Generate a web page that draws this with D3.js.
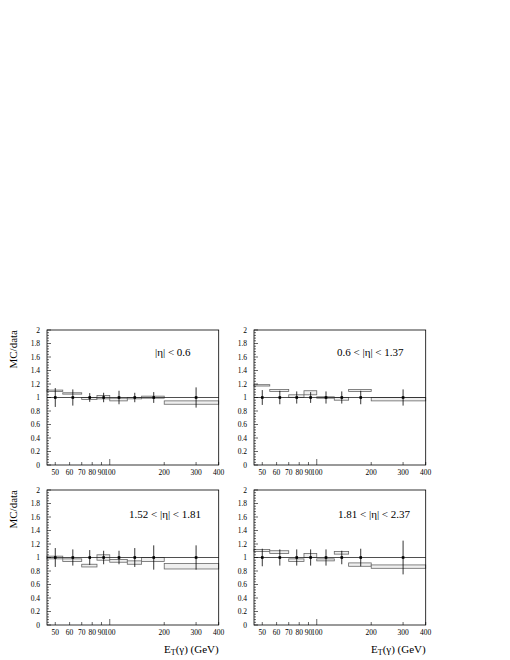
<!DOCTYPE html>
<html><head><meta charset="utf-8">
<script src="https://cdn.jsdelivr.net/npm/d3@7"></script>
<style>body{margin:0;background:#fff}svg{display:block}</style>
</head><body>
<script>
// ---- data ----
const binEdges = [45, 55, 70, 85, 100, 125, 150, 200, 400];
const binCenters = [50, 62.5, 77.5, 92.5, 112.5, 137.5, 175, 300];
const xTickValues = [50, 60, 70, 80, 90, 100, 200, 300, 400];
const yTickValues = [0, 0.2, 0.4, 0.6, 0.8, 1, 1.2, 1.4, 1.6, 1.8, 2];
const panelLabels = ["|\u03b7| < 0.6", "0.6 < |\u03b7| < 1.37", "1.52 < |\u03b7| < 1.81", "1.81 < |\u03b7| < 2.37"];
const dataValues = [1, 1, 1, 1, 1, 1, 1, 1];
// MC band low/high edges per panel
const mcLo1 = [1.09, 1.05, 0.97, 0.98, 0.95, 0.98, 0.99, 0.90];
const mcHi1 = [1.11, 1.07, 1.00, 1.03, 0.99, 1.00, 1.02, 0.95];
const err1  = [0.14, 0.12, 0.065, 0.07, 0.10, 0.07, 0.08, 0.15];
const mcLo2 = [1.17, 1.09, 1.00, 1.04, 0.99, 0.96, 1.09, 0.95];
const mcHi2 = [1.19, 1.12, 1.04, 1.10, 1.01, 1.00, 1.12, 1.00];
const err2  = [0.11, 0.10, 0.09, 0.08, 0.09, 0.09, 0.10, 0.12];
const mcLo3 = [0.98, 0.94, 0.86, 0.96, 0.93, 0.90, 0.94, 0.83];
const mcHi3 = [1.02, 0.98, 0.90, 1.04, 0.97, 0.95, 1.00, 0.91];
const err3  = [0.14, 0.12, 0.11, 0.10, 0.10, 0.14, 0.18, 0.18];
const mcLo4 = [1.09, 1.06, 0.94, 1.00, 0.95, 1.05, 0.87, 0.84];
const mcHi4 = [1.12, 1.10, 0.98, 1.06, 0.98, 1.09, 0.92, 0.89];
const err4  = [0.13, 0.12, 0.12, 0.12, 0.12, 0.10, 0.13, 0.25];

const panels = [
  {lo: mcLo1, hi: mcHi1, err: err1, label: panelLabels[0], x0: 47,  y0: 330, lx: 155, ly: 356, bottom: false},
  {lo: mcLo2, hi: mcHi2, err: err2, label: panelLabels[1], x0: 254, y0: 330, lx: 337, ly: 356, bottom: false},
  {lo: mcLo3, hi: mcHi3, err: err3, label: panelLabels[2], x0: 47,  y0: 490, lx: 129, ly: 518, bottom: true},
  {lo: mcLo4, hi: mcHi4, err: err4, label: panelLabels[3], x0: 254, y0: 490, lx: 338, ly: 518, bottom: true}
];
const W = 171.7, H = 135;
const font = "'Liberation Serif','Times New Roman',serif";

const svg = d3.select("body").append("svg").attr("width", 510).attr("height", 660);

panels.forEach((p, pi) => {
  const g = svg.append("g").attr("transform", `translate(${p.x0},${p.y0})`);
  const x = d3.scaleLog().domain([binEdges[0], binEdges[binEdges.length - 1]]).range([0, W]);
  const y = d3.scaleLinear().domain([0, 2]).range([H, 0]);

  // MC boxes
  g.selectAll("rect.mc").data(p.lo).enter().append("rect")
    .attr("x", (d, i) => x(binEdges[i]))
    .attr("width", (d, i) => x(binEdges[i + 1]) - x(binEdges[i]))
    .attr("y", (d, i) => y(p.hi[i]))
    .attr("height", (d, i) => y(p.lo[i]) - y(p.hi[i]))
    .attr("fill", "#efefef").attr("stroke", "#666").attr("stroke-width", 0.8);

  // line at 1
  g.append("line").attr("x1", 0).attr("x2", W).attr("y1", y(1)).attr("y2", y(1))
    .attr("stroke", "#222").attr("stroke-width", 0.8);

  // data error bars
  g.selectAll("line.err").data(dataValues).enter().append("line")
    .attr("x1", (d, i) => x(binCenters[i])).attr("x2", (d, i) => x(binCenters[i]))
    .attr("y1", (d, i) => y(d + p.err[i])).attr("y2", (d, i) => y(d - p.err[i]))
    .attr("stroke", "#000").attr("stroke-width", 0.8);
  g.selectAll("rect.pt").data(dataValues).enter().append("rect")
    .attr("x", (d, i) => x(binCenters[i]) - 1.3).attr("y", d => y(d) - 1.3)
    .attr("width", 2.6).attr("height", 2.6).attr("fill", "#000");

  // frame
  g.append("rect").attr("x", 0).attr("y", 0).attr("width", W).attr("height", H)
    .attr("fill", "none").attr("stroke", "#000").attr("stroke-width", 0.8);

  // y ticks (inward)
  const yMinor = d3.range(0, 2.0001, 0.04);
  g.selectAll("line.ym").data(yMinor).enter().append("line")
    .attr("x1", 0).attr("x2", (d, i) => (i % 5 === 0 ? 4 : 2))
    .attr("y1", d => y(d)).attr("y2", d => y(d))
    .attr("stroke", "#000").attr("stroke-width", 0.6);
  g.selectAll("text.yl").data(yTickValues).enter().append("text")
    .attr("x", -7).attr("y", d => y(d) + 2.5)
    .attr("text-anchor", "end").attr("font-family", font).attr("font-size", 7.5)
    .text(d => String(+d.toFixed(1)));

  // x ticks (inward)
  g.selectAll("line.xt").data(xTickValues).enter().append("line")
    .attr("x1", d => x(d)).attr("x2", d => x(d))
    .attr("y1", H).attr("y2", d => H - (d === 100 ? 6 : 3))
    .attr("stroke", "#000").attr("stroke-width", 0.6);
  g.selectAll("text.xl").data(xTickValues).enter().append("text")
    .attr("x", d => x(d)).attr("y", H + 10)
    .attr("text-anchor", "middle").attr("font-family", font).attr("font-size", 7.5)
    .text(d => d);

  // panel label
  svg.append("text").attr("x", p.lx).attr("y", p.ly)
    .attr("font-family", font).attr("font-size", 11).text(p.label);

  // y title
  if (pi % 2 === 0) {
    svg.append("text")
      .attr("transform", `translate(${p.x0 - 30},${p.y0}) rotate(-90)`)
      .attr("text-anchor", "end").attr("font-family", font).attr("font-size", 11)
      .text("MC/data");
  }
  // x title
  if (p.bottom) {
    const t = svg.append("text").attr("x", p.x0 + W).attr("y", p.y0 + H + 28)
      .attr("text-anchor", "end").attr("font-family", font).attr("font-size", 11);
    t.append("tspan").text("E");
    t.append("tspan").attr("dy", 2).attr("font-size", 8).text("T");
    t.append("tspan").attr("dy", -2).text("(\u03b3) (GeV)");
  }
});
</script>
</body></html>
